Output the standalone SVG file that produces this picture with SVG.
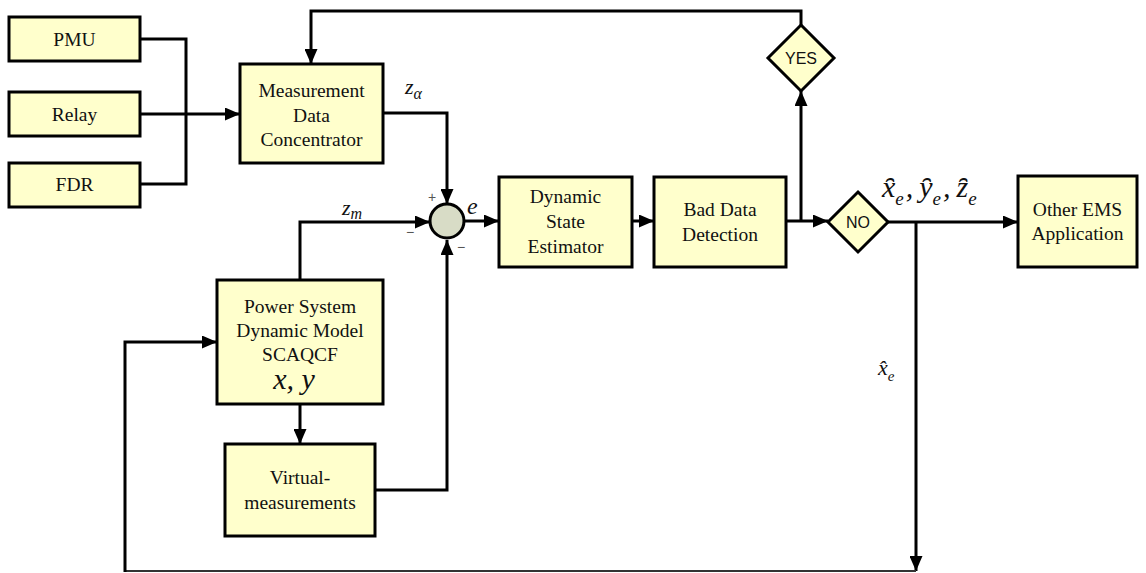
<svg xmlns="http://www.w3.org/2000/svg" width="1146" height="573" viewBox="0 0 1146 573">
<style>
.box{fill:#FFFFCC;stroke:#000;stroke-width:3}
.dia{fill:#FFFFCC;stroke:#000;stroke-width:3}
.t{font-family:"Liberation Serif","Times New Roman",serif;font-size:19.5px;fill:#111;text-anchor:middle}
.s{font-family:"Liberation Sans",Arial,sans-serif;font-size:16px;fill:#111;text-anchor:middle}
.m{font-family:"Liberation Serif","Times New Roman",serif;font-style:italic;fill:#111}
.ln{fill:none;stroke:#000;stroke-width:3}
.sg{font-family:"Liberation Sans",Arial,sans-serif;font-size:14px;fill:#555;text-anchor:middle}
</style>
<defs>
<marker id="ah" markerUnits="userSpaceOnUse" markerWidth="16" markerHeight="13" refX="15" refY="6.5" orient="auto">
<path d="M0,0 L15,6.5 L0,13 Z" fill="#000"/>
</marker>
</defs>
<g id="connectors">
<path class="ln" d="M140,39 L186,39 L186,184 L140,184"/>
<path class="ln" d="M140,114 L240,114" marker-end="url(#ah)"/>
<path class="ln" d="M801,25 L801,11 L311,11 L311,64" marker-end="url(#ah)"/>
<path class="ln" d="M383,113 L447,113 L447,204" marker-end="url(#ah)"/>
<path class="ln" d="M300,280 L300,222 L430,222" marker-end="url(#ah)"/>
<path class="ln" d="M375,490 L447,490 L447,240" marker-end="url(#ah)"/>
<path class="ln" d="M465,221 L499,221" marker-end="url(#ah)"/>
<path class="ln" d="M632,221 L654,221" marker-end="url(#ah)"/>
<path class="ln" d="M786,221 L828,221" marker-end="url(#ah)"/>
<path class="ln" d="M801,221 L801,91" marker-end="url(#ah)"/>
<path class="ln" d="M888,222 L1018,222" marker-end="url(#ah)"/>
<path class="ln" d="M916,222 L916,571" marker-end="url(#ah)"/>
<path class="ln" d="M300,404 L300,444" marker-end="url(#ah)"/>
<path fill="none" stroke="#333" stroke-width="2" d="M916,571 L125,571"/>
<path class="ln" d="M125,572 L125,342 L217,342" marker-end="url(#ah)"/>
</g>
<g id="pmu"><rect class="box" x="9" y="17" width="131" height="44"/><text class="t" x="74.5" y="46">PMU</text></g>
<g id="relay"><rect class="box" x="9" y="92" width="131" height="44"/><text class="t" x="74.5" y="121">Relay</text></g>
<g id="fdr"><rect class="box" x="9" y="163" width="131" height="44"/><text class="t" x="74.5" y="191">FDR</text></g>
<g id="mdc"><rect class="box" x="240" y="64" width="143" height="99"/>
<text class="t" x="311.5" y="97">Measurement</text><text class="t" x="311.5" y="122">Data</text><text class="t" x="311.5" y="146">Concentrator</text></g>
<g id="sum"><circle cx="447" cy="221" r="17" fill="#D8DCC6" stroke="#000" stroke-width="3"/>
<text class="sg" x="432" y="202">+</text><text class="sg" x="410" y="237">−</text><text class="sg" x="461" y="252">−</text></g>
<g id="dse"><rect class="box" x="499" y="177" width="133" height="90"/>
<text class="t" x="565.5" y="203">Dynamic</text><text class="t" x="565.5" y="228">State</text><text class="t" x="565.5" y="253">Estimator</text></g>
<g id="bdd"><rect class="box" x="654" y="177" width="132" height="90"/>
<text class="t" x="720" y="216">Bad Data</text><text class="t" x="720" y="241">Detection</text></g>
<g id="yes"><polygon class="dia" points="801,25 834,58 801,91 768,58"/><text class="s" x="801" y="64">YES</text></g>
<g id="no"><polygon class="dia" points="858,192 888,222 858,252 828,222"/><text class="s" x="858" y="228">NO</text></g>
<g id="ems"><rect class="box" x="1018" y="176" width="119" height="91"/>
<text class="t" x="1077.5" y="216">Other EMS</text><text class="t" x="1077.5" y="240">Application</text></g>
<g id="psdm"><rect class="box" x="217" y="280" width="166" height="124"/>
<text class="t" x="300" y="313">Power System</text><text class="t" x="300" y="337">Dynamic Model</text><text class="t" x="300" y="361">SCAQCF</text>
<text class="m" x="294" y="389" font-size="30" text-anchor="middle">x, y</text></g>
<g id="vm"><rect class="box" x="225" y="444" width="150" height="92"/>
<text class="t" x="300" y="484">Virtual-</text><text class="t" x="300" y="509">measurements</text></g>
<g id="labels">
<text class="m" x="405" y="94" font-size="22">z<tspan font-size="16" dy="5">α</tspan></text>
<text class="m" x="342" y="215" font-size="22">z<tspan font-size="16" dy="4">m</tspan></text>
<text class="m" x="467" y="214" font-size="24">e</text>
<text class="m" x="882" y="197" font-size="30">x̑<tspan font-size="19" dy="8">e</tspan><tspan font-size="30" dy="-8" dx="2">,</tspan><tspan font-size="30" dx="6">y̑</tspan><tspan font-size="19" dy="8">e</tspan><tspan font-size="30" dy="-8" dx="2">,</tspan><tspan font-size="30" dx="6">z̑</tspan><tspan font-size="19" dy="8">e</tspan></text>
<text class="m" x="878" y="375" font-size="22">x̂<tspan font-size="15" dy="6">e</tspan></text>
</g>
</svg>
